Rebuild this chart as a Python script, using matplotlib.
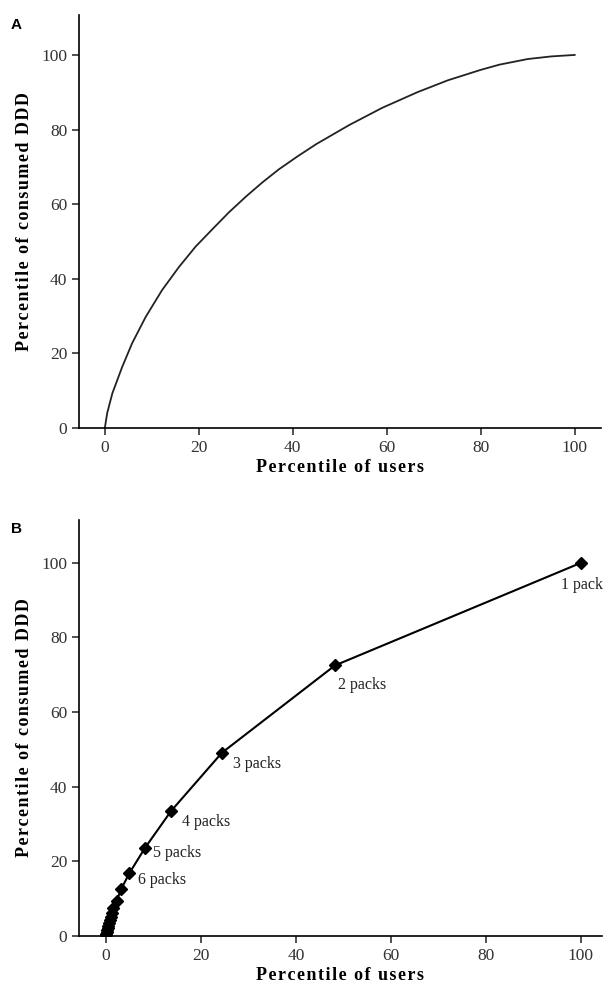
import matplotlib
matplotlib.use("Agg")
import matplotlib.pyplot as plt

# panel A: cumulative curve
users_a = [0, 0.5, 1.6, 3.7, 5.8, 8.7, 12.2, 15.8, 19.3, 22.9, 26.4, 30, 33.5,
           37, 41, 45, 52, 59, 66.5, 73, 80, 84, 90, 95, 100]
ddd_a = [0, 4, 9.3, 16.4, 22.7, 29.8, 37, 43.2, 48.6, 53.3, 57.8, 62, 65.8,
         69.3, 72.8, 76.1, 81.2, 85.8, 90, 93.2, 96, 97.4, 98.9, 99.6, 100]

# panel B: one point per pack count
users_b = [100, 48.2, 24.4, 13.7, 8.2, 4.9, 3.2, 2.25, 1.55, 1.2, 0.95, 0.75,
           0.6, 0.45, 0.35, 0.25, 0.15, 0.08, 0.03]
ddd_b = [100, 72.5, 49.1, 33.5, 23.6, 16.8, 12.6, 9.5, 7.5, 6.2, 5.1, 4.2,
         3.4, 2.7, 2.1, 1.5, 1.0, 0.5, 0.2]
pack_labels = ["1 pack", "2 packs", "3 packs", "4 packs", "5 packs", "6 packs"]
label_offsets = [(-14, -16), (2, -14), (8, -8), (8, -8), (6, -4), (6, -5)]

ticks = [0, 20, 40, 60, 80, 100]

plt.rcParams["font.family"] = ["Liberation Serif", "DejaVu Serif"]


def spaced(s):
    # the original labels are set with loose letter spacing
    return "\u200a".join(s)


fig = plt.figure(figsize=(6.1, 9.94), dpi=100)
ax_a = fig.add_axes([0.1295, 0.5694, 0.855, 0.4155])
ax_b = fig.add_axes([0.1295, 0.0584, 0.857, 0.4185])


def style(ax, xlim, ylim):
    ax.set_xlim(*xlim)
    ax.set_ylim(*ylim)
    ax.set_xticks(ticks)
    ax.set_yticks(ticks)
    for s in ["top", "right"]:
        ax.spines[s].set_visible(False)
    for s in ["left", "bottom"]:
        ax.spines[s].set_linewidth(1.2)
    ax.tick_params(direction="out", length=5, width=1.1, labelsize=12.5,
                   colors="#222222", labelcolor="#333333")
    ax.set_xlabel(spaced("Percentile of users"), fontsize=13,
                  fontweight="bold", labelpad=2)
    ax.set_ylabel(spaced("Percentile of consumed DDD"), fontsize=13,
                  fontweight="bold", labelpad=6)


ax_a.plot(users_a, ddd_a, color="#222222", lw=1.3)
style(ax_a, (-5.5, 105.5), (0, 110.7))

ax_b.plot(users_b, ddd_b, color="black", lw=1.5, marker="D", markersize=6,
          markeredgecolor="black", markerfacecolor="black")
for i, lab in enumerate(pack_labels):
    ax_b.annotate(lab, (users_b[i], ddd_b[i]), xytext=label_offsets[i],
                  textcoords="offset points", fontsize=11.5, color="#222222",
                  ha="left", va="center")
style(ax_b, (-5.7, 104.4), (0, 111.5))

fig.text(0.018, 0.975, "A", fontsize=11, fontweight="bold",
         family="Liberation Sans", va="center")
fig.text(0.018, 0.468, "B", fontsize=11, fontweight="bold",
         family="Liberation Sans", va="center")

fig.savefig("out.png", dpi=100)
